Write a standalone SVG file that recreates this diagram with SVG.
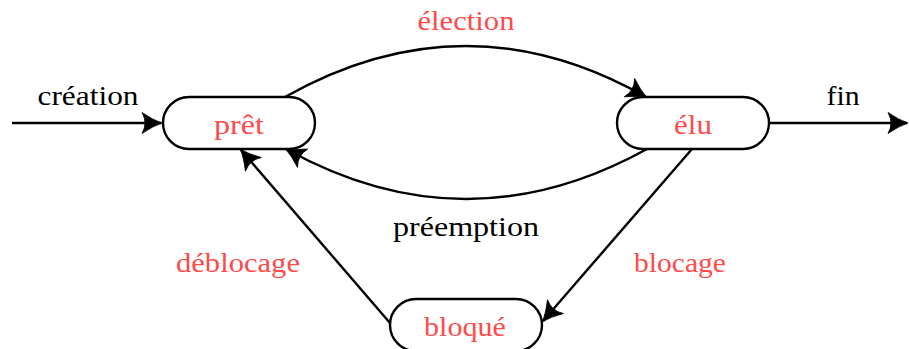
<svg xmlns="http://www.w3.org/2000/svg" width="909" height="349" viewBox="0 0 909 349">
<style>
.node{fill:#fff;stroke:#000;stroke-width:2.4}
.edge{fill:none;stroke:#000;stroke-width:2.4}
text{font-family:"Liberation Serif","DejaVu Serif",serif;font-size:27px;text-anchor:middle}
.red{fill:#ff4a4a}
.blk{fill:#000}
</style>
<defs>
<marker id="ah" markerUnits="userSpaceOnUse" viewBox="-22 -12 24 24" markerWidth="24" markerHeight="24" refX="0" refY="0" orient="auto">
<path d="M1,0 Q-8,-3 -19,-10.5 Q-13,0 -19,10.5 Q-8,3 1,0 Z" fill="#000" stroke="#000" stroke-width="0.8" stroke-linejoin="round"/>
</marker>
</defs>
<g id="edges">
<path class="edge" d="M12,123 L161,123" marker-end="url(#ah)"/>
<path class="edge" d="M769,123 L907,123" marker-end="url(#ah)"/>
<path class="edge" d="M285,97 Q466,-5 646,97" marker-end="url(#ah)"/>
<path class="edge" d="M647,149 Q466,249 286,149" marker-end="url(#ah)"/>
<path class="edge" d="M692,149 L543,321" marker-end="url(#ah)"/>
<path class="edge" d="M390,323 L241,150" marker-end="url(#ah)"/>
</g>
<g id="labels">
<text class="blk" x="88" y="105" textLength="101" lengthAdjust="spacingAndGlyphs">création</text>
<text class="blk" x="843" y="105" textLength="33" lengthAdjust="spacingAndGlyphs">fin</text>
<text class="red" x="466" y="30" textLength="97" lengthAdjust="spacingAndGlyphs">élection</text>
<text class="blk" x="466" y="236" textLength="146" lengthAdjust="spacingAndGlyphs">préemption</text>
<text class="red" x="238" y="272" textLength="124" lengthAdjust="spacingAndGlyphs">déblocage</text>
<text class="red" x="680" y="272" textLength="92" lengthAdjust="spacingAndGlyphs">blocage</text>
</g>
<g id="pret">
<rect class="node" x="163" y="97" width="152" height="52" rx="26"/>
<text class="red" x="239" y="134" textLength="50" lengthAdjust="spacingAndGlyphs">prêt</text>
</g>
<g id="elu">
<rect class="node" x="617" y="97" width="152" height="52" rx="26"/>
<text class="red" x="693" y="134" textLength="38" lengthAdjust="spacingAndGlyphs">élu</text>
</g>
<g id="bloque">
<rect class="node" x="390" y="299" width="152" height="52" rx="26"/>
<text class="red" x="465" y="336" textLength="82" lengthAdjust="spacingAndGlyphs">bloqué</text>
</g>
</svg>
